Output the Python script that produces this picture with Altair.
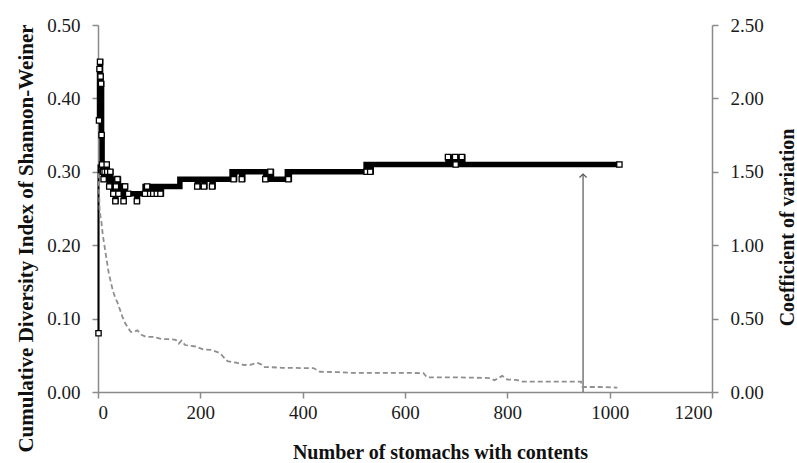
import altair as alt
import pandas as pd

# Cumulative Shannon-Weiner index (step line, left axis)
h_n = [1, 2, 3, 4, 5, 6, 7, 8, 9, 11, 13, 15, 17, 18, 20, 22, 24, 25, 27, 29, 31, 33, 34, 35, 38, 40, 44, 48, 50, 51, 53, 57, 60, 76, 77, 92,
       102, 104, 108, 110, 115, 117, 122, 124, 160, 194, 196, 207, 209, 223, 225, 262, 265, 267, 281, 283, 328, 337, 339, 370, 372, 374,
       524, 525, 527, 532, 534, 684, 690, 698, 700, 711, 713, 1019]
h_v = [0.08, 0.37, 0.44, 0.45, 0.43, 0.42, 0.35, 0.31, 0.30, 0.29, 0.30, 0.29, 0.31, 0.30, 0.29, 0.28, 0.30, 0.29, 0.28, 0.27, 0.28, 0.27, 0.26, 0.28, 0.29, 0.27, 0.28, 0.27, 0.26, 0.28, 0.27, 0.27, 0.27, 0.26, 0.27, 0.28,
       0.27, 0.28, 0.27, 0.28, 0.27, 0.28, 0.27, 0.28, 0.29, 0.28, 0.29, 0.28, 0.29, 0.28, 0.29, 0.30, 0.29, 0.30, 0.29, 0.30, 0.29, 0.30, 0.29, 0.30, 0.29, 0.30,
       0.31, 0.30, 0.31, 0.30, 0.31, 0.32, 0.31, 0.32, 0.31, 0.32, 0.31, 0.31]

# Visible open square markers
mk_n = [1, 2, 3, 4, 5, 6, 7, 8, 9, 10, 11, 13, 17, 18, 22, 24, 30, 34, 35, 38, 40, 50, 51, 53, 59, 76, 92, 96, 102, 108, 115, 122,
        194, 207, 223, 265, 281, 327, 337, 372, 525, 532, 684, 698, 699, 711, 1019]
mk_v = [0.08, 0.37, 0.44, 0.45, 0.43, 0.42, 0.35, 0.31, 0.30, 0.30, 0.29, 0.30, 0.31, 0.30, 0.28, 0.30, 0.27, 0.26, 0.28, 0.29, 0.27, 0.26, 0.28, 0.28, 0.27, 0.26, 0.27, 0.28, 0.27, 0.27, 0.27, 0.27,
        0.28, 0.28, 0.28, 0.29, 0.29, 0.29, 0.30, 0.29, 0.30, 0.30, 0.32, 0.32, 0.31, 0.32, 0.31]

# Coefficient of variation (dashed, right axis)
cv_n = [1, 2, 3, 5, 6, 7, 9, 12, 16, 21, 25, 29, 34, 38, 43, 48, 53, 58, 64, 70, 77, 85, 94, 109, 125, 140, 152, 158, 163, 170, 180, 191,
        205, 223, 238, 253, 270, 285, 300, 310, 318, 324, 331, 360, 400, 421, 434, 470, 493, 520, 551, 600, 636, 643, 700, 766, 775, 790,
        800, 818, 830, 880, 944, 947, 980, 1015]
cv_v = [1.49, 1.40, 1.25, 1.19, 1.17, 1.15, 1.08, 1.01, 0.92, 0.81, 0.75, 0.69, 0.64, 0.61, 0.56, 0.51, 0.47, 0.44, 0.41, 0.41, 0.42, 0.39, 0.375, 0.375, 0.36, 0.36, 0.355, 0.33, 0.35, 0.32, 0.315, 0.31,
        0.29, 0.286, 0.265, 0.21, 0.20, 0.184, 0.186, 0.20, 0.19, 0.17, 0.17, 0.165, 0.163, 0.163, 0.138, 0.135, 0.131, 0.13, 0.13, 0.13, 0.129, 0.10, 0.10, 0.095, 0.08, 0.11,
        0.085, 0.082, 0.07, 0.07, 0.07, 0.034, 0.034, 0.03]

arrow_n = [948]
arrow_base = [0.0]
arrow_top = [0.297]

x_ticks = [0, 200, 400, 600, 800, 1000, 1200]
left_ticks = [0.0, 0.1, 0.2, 0.3, 0.4, 0.5]
right_ticks = [0.0, 0.5, 1.0, 1.5, 2.0, 2.5]

FONT = "Liberation Serif"
AX = "#8a8a8a"

# first rise (thin) drawn separately, rest of the curve thick
first_df = pd.DataFrame({"n": [h_n[0]], "y0": [h_v[0]], "h": [0.31]})
h_df = pd.DataFrame({"n": h_n[1:], "h": h_v[1:]})
mk_df = pd.DataFrame({"n": mk_n, "h": mk_v})
cv_df = pd.DataFrame({"n": cv_n, "cv": cv_v})
ar_df = pd.DataFrame({"n": arrow_n, "y0": arrow_base, "h": arrow_top})

xscale = alt.Scale(domain=[0, 1200], nice=False)
yscale = alt.Scale(domain=[0, 0.5], nice=False)
y2scale = alt.Scale(domain=[0, 2.5], nice=False)

common_axis = dict(grid=False, domainColor=AX, domainWidth=1.5, tickColor=AX, tickWidth=1.5, tickSize=6,
                   labelFont=FONT, labelFontSize=19, labelColor="#1a1a1a",
                   titleFont=FONT, titleFontWeight="bold", titleColor="#111111")

xaxis = alt.Axis(values=x_ticks, format="d", title="Number of stomachs with contents", labelPadding=5,
                 titleFontSize=20, titleX=342, titleY=66, titleBaseline="alphabetic", titleAlign="center",
                 **common_axis)
yaxis = alt.Axis(values=left_ticks, format=".2f", title="Cumulative Diversity Index of Shannon-Weiner",
                 labelPadding=12, titleFontSize=21, titleAngle=270, titleX=-66, titleY=213,
                 titleBaseline="alphabetic", titleAlign="center", **common_axis)
y2axis = alt.Axis(values=right_ticks, format=".2f", title="Coefficient of variation", orient="right",
                  labelPadding=12, titleFontSize=20, titleAngle=270, titleX=81, titleY=202,
                  titleBaseline="alphabetic", titleAlign="center", **common_axis)

h_line = alt.Chart(h_df).mark_line(color="black", strokeWidth=5.5, interpolate="step-after").encode(
    x=alt.X("n:Q", scale=xscale, axis=xaxis),
    y=alt.Y("h:Q", scale=yscale, axis=yaxis),
)
first_seg = alt.Chart(first_df).mark_rule(color="black", strokeWidth=2).encode(
    x=alt.X("n:Q", scale=xscale, axis=xaxis),
    y=alt.Y("y0:Q", scale=yscale, axis=yaxis),
    y2="h:Q",
)
h_pts = alt.Chart(mk_df).mark_point(shape="square", filled=True, fill="white", stroke="black",
                                     strokeWidth=1.3, size=28, opacity=1).encode(
    x=alt.X("n:Q", scale=xscale, axis=xaxis),
    y=alt.Y("h:Q", scale=yscale, axis=yaxis),
)
arrow = alt.Chart(ar_df).mark_rule(color="#555555", strokeWidth=1.2).encode(
    x=alt.X("n:Q", scale=xscale, axis=xaxis),
    y=alt.Y("y0:Q", scale=yscale, axis=yaxis),
    y2="h:Q",
)
arrow_head = alt.Chart(ar_df).mark_point(shape="M-1,1L0,0L1,1", filled=False, stroke="#555555",
                                          strokeWidth=1.2, size=50, opacity=1).encode(
    x=alt.X("n:Q", scale=xscale, axis=xaxis),
    y=alt.Y("h:Q", scale=yscale, axis=yaxis),
)

cv_line = alt.Chart(cv_df).mark_line(color="#8f8f8f", strokeWidth=1.8, strokeDash=[5, 3]).encode(
    x=alt.X("n:Q", scale=xscale, axis=xaxis),
    y=alt.Y("cv:Q", scale=y2scale, axis=y2axis),
)

left = alt.layer(h_line, first_seg, arrow, arrow_head, h_pts)

chart = alt.layer(left, cv_line).resolve_scale(y="independent").properties(
    width=614, height=367,
    padding={"left": 98, "top": 25, "right": 85, "bottom": 71},
    autosize=alt.AutoSizeParams(type="none"),
    background="white",
).configure_view(stroke=None)

chart.save("out.html", embed_options={"renderer": "svg", "actions": False})
